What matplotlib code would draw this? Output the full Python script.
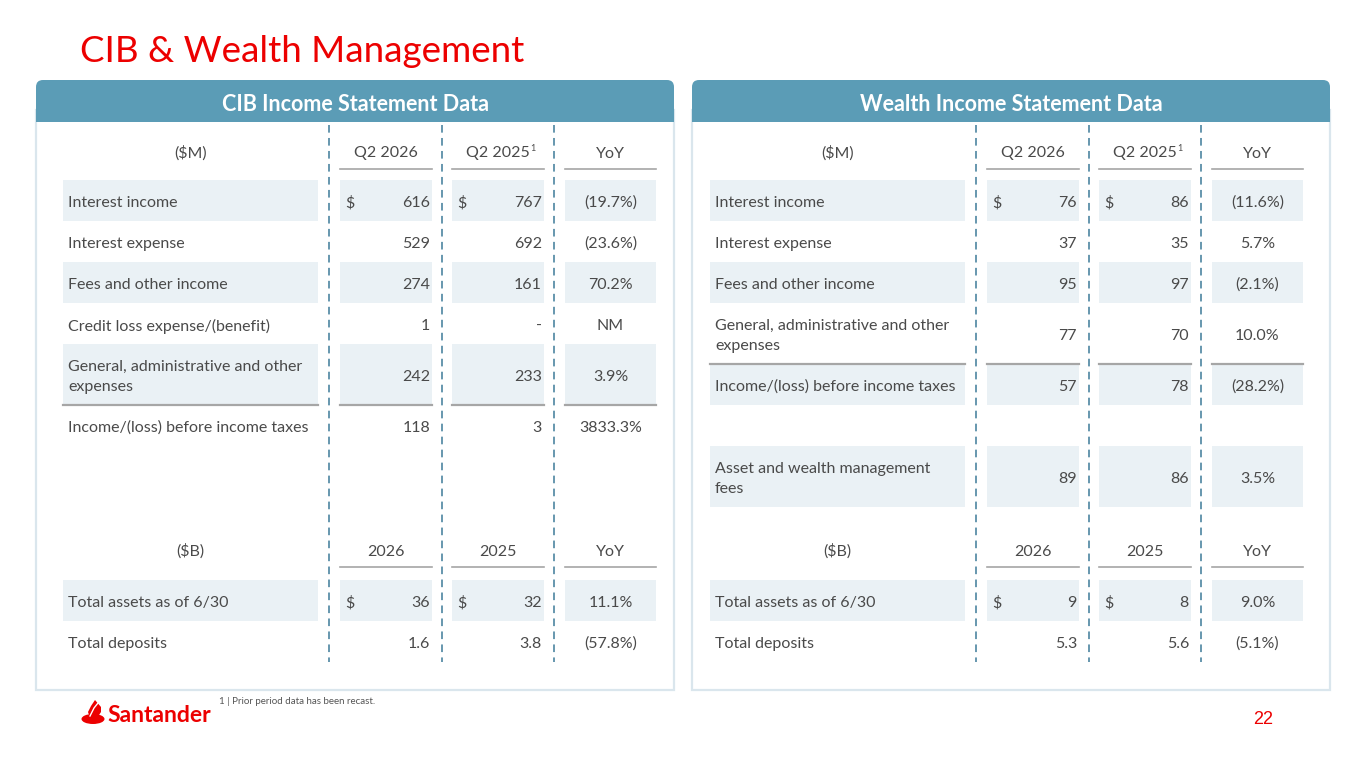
import matplotlib
matplotlib.use('Agg')
import matplotlib.pyplot as plt
from matplotlib.patches import Rectangle, FancyBboxPatch, Polygon, Ellipse

plt.rcParams['font.family'] = ['Lato', 'DejaVu Sans']

# ---- data ----
cib_labels = ['Interest income', 'Interest expense', 'Fees and other income',
              'Credit loss expense/(benefit)',
              'General, administrative and other\nexpenses',
              'Income/(loss) before income taxes']
cib_q2_2026 = ['616', '529', '274', '1', '242', '118']
cib_q2_2025 = ['767', '692', '161', '-', '233', '3']
cib_yoy = ['(19.7%)', '(23.6%)', '70.2%', 'NM', '3.9%', '3833.3%']

cib_bs_labels = ['Total assets as of 6/30', 'Total deposits']
cib_bs_2026 = ['36', '1.6']
cib_bs_2025 = ['32', '3.8']
cib_bs_yoy = ['11.1%', '(57.8%)']

wm_labels = ['Interest income', 'Interest expense', 'Fees and other income',
             'General, administrative and other\nexpenses',
             'Income/(loss) before income taxes', '',
             'Asset and wealth management\nfees']
wm_q2_2026 = ['76', '37', '95', '77', '57', '', '89']
wm_q2_2025 = ['86', '35', '97', '70', '78', '', '86']
wm_yoy = ['(11.6%)', '5.7%', '(2.1%)', '10.0%', '(28.2%)', '', '3.5%']

wm_bs_labels = ['Total assets as of 6/30', 'Total deposits']
wm_bs_2026 = ['9', '5.3']
wm_bs_2025 = ['8', '5.6']
wm_bs_yoy = ['9.0%', '(5.1%)']

is_headers = ['($M)', 'Q2 2026', 'Q2 2025', 'YoY']
bs_headers = ['($B)', '2026', '2025', 'YoY']

# ---- styles ----
RED = '#EC0000'
BAND = '#5B9CB6'
BORDER = '#DAE6ED'
SHADE = '#EAF1F5'
TXT = '#4A4A4A'
DASH = '#3D7B99'
RULE = '#A6A6A6'
DY = 2.5  # nudge text down so it sits centred in the rows

fig = plt.figure(figsize=(13.65, 7.68), dpi=100)
ax = fig.add_axes([0, 0, 1, 1])
ax.set_xlim(0, 1365)
ax.set_ylim(768, 0)
ax.axis('off')

ax.text(80, 51, 'CIB & Wealth Management', color=RED, fontsize=26.5,
        ha='left', va='center')


def draw_panel(bx, ix, title, labels, c1, c2, c3, heights, line_after,
               bs_labels, b1, b2, b3):
    # frame + header band
    ax.add_patch(Rectangle((bx, 110), 638, 580, fc='white', ec=BORDER, lw=1.6))
    ax.add_patch(FancyBboxPatch((bx, 80), 638, 42, boxstyle='round,pad=0,rounding_size=7',
                                fc=BAND, ec='none'))
    ax.add_patch(Rectangle((bx, 105), 638, 17, fc=BAND, ec='none'))
    ax.text(bx + 319, 102 + DY, title, color='white', fontsize=15.5, fontweight='bold',
            ha='center', va='center')

    cols = [(ix, ix + 255), (ix + 277, ix + 369), (ix + 389, ix + 481), (ix + 502, ix + 593)]
    for dx in (266, 379, 491):
        ax.plot([ix + dx, ix + dx], [125, 662], color=DASH, lw=1.1,
                ls=(0, (5, 3.5)))

    def header(y, names):
        for k, (a, b) in enumerate(cols):
            t = ax.text((a + b) / 2, y + DY, names[k], color=TXT, fontsize=11.5,
                        ha='center', va='center')
            if names[k] == 'Q2 2025':
                ax.annotate('1', xy=(1, 1), xycoords=t, xytext=(0.2, 1.5),
                            textcoords='offset points', fontsize=6.5, color=TXT,
                            ha='left', va='top')
            if k > 0:
                ax.plot([a, b], [y + 18, y + 18], color=RULE, lw=1.2)

    def body(y0, hs, labs, v1, v2, v3, rule_idx):
        y = y0
        for i, h in enumerate(hs):
            top, bot = y, y + h
            mid = (top + bot) / 2 + DY
            if i % 2 == 0:
                for a, b in cols:
                    ax.add_patch(Rectangle((a, top), b - a, h, fc=SHADE, ec='none'))
            if i == rule_idx:
                for a, b in cols:
                    ax.plot([a, b], [bot, bot], color=RULE, lw=1.6)
            ax.text(cols[0][0] + 5, mid, labs[i], color=TXT, fontsize=11.5,
                    ha='left', va='center', linespacing=1.5)
            for (a, b), v in zip(cols[1:3], (v1[i], v2[i])):
                if i == 0:
                    ax.text(a + 5, mid, '$', color=TXT, fontsize=11.5,
                            ha='left', va='center')
                ax.text(b - 2, mid, v, color=TXT, fontsize=11.5,
                        ha='right', va='center')
            a, b = cols[3]
            ax.text((a + b) / 2, mid, v3[i], color=TXT, fontsize=11.5,
                    ha='center', va='center')
            y = bot

    header(151, is_headers)
    body(180, heights, labels, c1, c2, c3, line_after)
    header(549, bs_headers)
    body(580, [41, 41], bs_labels, b1, b2, b3, -1)


draw_panel(36, 63, 'CIB Income Statement Data', cib_labels,
           cib_q2_2026, cib_q2_2025, cib_yoy, [41, 41, 41, 41, 61, 41], 4,
           cib_bs_labels, cib_bs_2026, cib_bs_2025, cib_bs_yoy)
draw_panel(692, 710, 'Wealth Income Statement Data', wm_labels,
           wm_q2_2026, wm_q2_2025, wm_yoy, [41, 41, 41, 61, 41, 41, 61], 3,
           wm_bs_labels, wm_bs_2026, wm_bs_2025, wm_bs_yoy)

# footnote, logo, page number
ax.text(219, 702, '1 | Prior period data has been recast.', color='#555555',
        fontsize=7, ha='left', va='center')
ax.add_patch(Ellipse((93, 719), 23, 10, fc=RED, ec='none'))
ax.add_patch(Polygon([(95, 700), (101, 707), (101, 712), (97, 718), (90, 718),
                      (88, 712), (91, 706)], closed=True, fc=RED, ec='none'))
ax.plot([90, 94, 98], [716, 708, 703], color='white', lw=1.0)
ax.text(107, 716, 'Santander', color=RED, fontsize=16.5, fontweight='bold',
        ha='left', va='center')
ax.text(1263, 719, '22', color=RED, fontsize=13, family=['Liberation Sans', 'DejaVu Sans'],
        ha='center', va='center')

fig.savefig('out.png', dpi=100, facecolor='white')
